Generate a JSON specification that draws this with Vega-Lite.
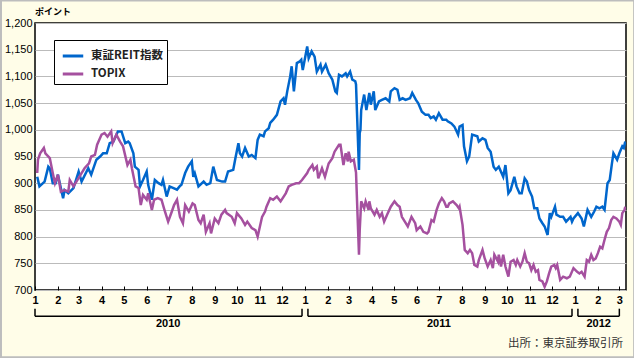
{
 "$schema": "https://vega.github.io/schema/vega-lite/v6.json",
 "width": 591, "height": 267,
 "autosize": "none",
 "padding": {"left": 35, "top": 23, "right": 8, "bottom": 68},
 "background": "#FFFDE8",
 "config": {"view": {"stroke": "#000", "strokeWidth": 1.5, "fill": "#fff"}, "font": "Liberation Sans",
   "axisY": {"values": [700, 750, 800, 850, 900, 950, 1000, 1050, 1100, 1150, 1200], "format": ",.0f", "title": null,
        "grid": true, "gridColor": "#bbbbbb", "gridWidth": 1, "domain": false, "ticks": false, "labelOverlap": false, "labelFlush": false,
        "labelPadding": 3, "labelFontSize": 11, "labelColor": "#000"}},
 "datasets": {
  "reit": [
   {"date":"2010/01/04","value":912},{"date":"2010/01/07","value":894},{"date":"2010/01/14","value":903},{"date":"2010/01/19","value":931},{"date":"2010/01/21","value":928},{"date":"2010/01/25","value":900},{"date":"2010/01/29","value":900},{"date":"2010/02/01","value":916},{"date":"2010/02/08","value":872},{"date":"2010/02/10","value":887},{"date":"2010/02/15","value":881},{"date":"2010/02/22","value":891},{"date":"2010/03/01","value":922},{"date":"2010/03/05","value":903},{"date":"2010/03/14","value":928},{"date":"2010/03/18","value":916},{"date":"2010/03/25","value":944},{"date":"2010/03/30","value":950},{"date":"2010/04/03","value":956},{"date":"2010/04/08","value":956},{"date":"2010/04/12","value":975},{"date":"2010/04/17","value":978},{"date":"2010/04/19","value":984},{"date":"2010/04/23","value":997},{"date":"2010/04/28","value":997},{"date":"2010/05/03","value":975},{"date":"2010/05/07","value":978},{"date":"2010/05/09","value":975},{"date":"2010/05/14","value":956},{"date":"2010/05/16","value":931},{"date":"2010/05/21","value":925},{"date":"2010/05/23","value":894},{"date":"2010/05/27","value":906},{"date":"2010/06/01","value":922},{"date":"2010/06/03","value":897},{"date":"2010/06/08","value":869},{"date":"2010/06/12","value":906},{"date":"2010/06/17","value":900},{"date":"2010/06/21","value":897},{"date":"2010/06/23","value":906},{"date":"2010/06/28","value":875},{"date":"2010/07/02","value":894},{"date":"2010/07/12","value":888},{"date":"2010/07/16","value":895},{"date":"2010/07/18","value":897},{"date":"2010/07/23","value":919},{"date":"2010/07/27","value":931},{"date":"2010/08/01","value":941},{"date":"2010/08/03","value":912},{"date":"2010/08/05","value":919},{"date":"2010/08/10","value":894},{"date":"2010/08/17","value":903},{"date":"2010/08/21","value":897},{"date":"2010/08/26","value":900},{"date":"2010/08/30","value":931},{"date":"2010/09/04","value":906},{"date":"2010/09/11","value":903},{"date":"2010/09/15","value":903},{"date":"2010/09/19","value":922},{"date":"2010/09/26","value":925},{"date":"2010/09/29","value":947},{"date":"2010/10/03","value":975},{"date":"2010/10/05","value":956},{"date":"2010/10/08","value":950},{"date":"2010/10/12","value":966},{"date":"2010/10/17","value":950},{"date":"2010/10/21","value":953},{"date":"2010/10/26","value":947},{"date":"2010/10/29","value":981},{"date":"2010/11/01","value":991},{"date":"2010/11/06","value":988},{"date":"2010/11/08","value":997},{"date":"2010/11/13","value":1003},{"date":"2010/11/15","value":1013},{"date":"2010/11/19","value":1019},{"date":"2010/11/24","value":1028},{"date":"2010/11/29","value":1053},{"date":"2010/12/03","value":1059},{"date":"2010/12/05","value":1047},{"date":"2010/12/08","value":1072},{"date":"2010/12/12","value":1100},{"date":"2010/12/14","value":1119},{"date":"2010/12/17","value":1072},{"date":"2010/12/21","value":1125},{"date":"2010/12/25","value":1128},{"date":"2010/12/27","value":1131},{"date":"2010/12/29","value":1112},
   {"date":"2011/01/04","value":1156},{"date":"2011/01/06","value":1134},{"date":"2011/01/10","value":1147},{"date":"2011/01/14","value":1137},{"date":"2011/01/17","value":1109},{"date":"2011/01/22","value":1122},{"date":"2011/01/24","value":1109},{"date":"2011/01/29","value":1122},{"date":"2011/02/02","value":1106},{"date":"2011/02/07","value":1094},{"date":"2011/02/11","value":1072},{"date":"2011/02/13","value":1069},{"date":"2011/02/16","value":1103},{"date":"2011/02/20","value":1100},{"date":"2011/02/25","value":1106},{"date":"2011/02/27","value":1100},{"date":"2011/03/03","value":1109},{"date":"2011/03/06","value":1094},{"date":"2011/03/10","value":1091},{"date":"2011/03/11","value":1085},{"date":"2011/03/15","value":925},{"date":"2011/03/16","value":994},{"date":"2011/03/17","value":1000},{"date":"2011/03/18","value":1037},{"date":"2011/03/22","value":1066},{"date":"2011/03/25","value":1037},{"date":"2011/03/29","value":1069},{"date":"2011/03/31","value":1047},{"date":"2011/04/04","value":1072},{"date":"2011/04/06","value":1037},{"date":"2011/04/11","value":1053},{"date":"2011/04/15","value":1056},{"date":"2011/04/20","value":1059},{"date":"2011/04/25","value":1053},{"date":"2011/04/27","value":1072},{"date":"2011/05/02","value":1078},{"date":"2011/05/06","value":1075},{"date":"2011/05/09","value":1056},{"date":"2011/05/13","value":1059},{"date":"2011/05/17","value":1056},{"date":"2011/05/23","value":1059},{"date":"2011/05/26","value":1069},{"date":"2011/05/31","value":1056},{"date":"2011/06/03","value":1050},{"date":"2011/06/08","value":1034},{"date":"2011/06/13","value":1028},{"date":"2011/06/17","value":1028},{"date":"2011/06/20","value":1022},{"date":"2011/06/24","value":1025},{"date":"2011/06/27","value":1019},{"date":"2011/07/01","value":1031},{"date":"2011/07/06","value":1019},{"date":"2011/07/11","value":1019},{"date":"2011/07/13","value":1016},{"date":"2011/07/18","value":1012},{"date":"2011/07/22","value":1006},{"date":"2011/07/27","value":991},{"date":"2011/07/29","value":1006},{"date":"2011/08/02","value":1009},{"date":"2011/08/04","value":969},{"date":"2011/08/08","value":941},{"date":"2011/08/11","value":950},{"date":"2011/08/15","value":991},{"date":"2011/08/22","value":988},{"date":"2011/08/24","value":978},{"date":"2011/08/29","value":984},{"date":"2011/09/02","value":981},{"date":"2011/09/05","value":966},{"date":"2011/09/09","value":959},{"date":"2011/09/13","value":931},{"date":"2011/09/16","value":925},{"date":"2011/09/20","value":931},{"date":"2011/09/26","value":912},{"date":"2011/09/29","value":934},{"date":"2011/10/03","value":881},{"date":"2011/10/06","value":887},{"date":"2011/10/11","value":912},{"date":"2011/10/14","value":894},{"date":"2011/10/18","value":881},{"date":"2011/10/21","value":881},{"date":"2011/10/25","value":909},{"date":"2011/10/28","value":903},{"date":"2011/10/31","value":887},{"date":"2011/11/04","value":875},{"date":"2011/11/07","value":853},{"date":"2011/11/11","value":853},{"date":"2011/11/14","value":834},{"date":"2011/11/18","value":825},{"date":"2011/11/21","value":819},{"date":"2011/11/25","value":803},{"date":"2011/11/28","value":844},{"date":"2011/11/30","value":837},{"date":"2011/12/05","value":856},{"date":"2011/12/07","value":841},{"date":"2011/12/12","value":837},{"date":"2011/12/16","value":837},{"date":"2011/12/20","value":828},{"date":"2011/12/26","value":837},{"date":"2011/12/28","value":828},{"date":"2011/12/30","value":834},
   {"date":"2012/01/05","value":844},{"date":"2012/01/10","value":834},{"date":"2012/01/13","value":819},{"date":"2012/01/18","value":850},{"date":"2012/01/23","value":837},{"date":"2012/01/27","value":847},{"date":"2012/01/30","value":856},{"date":"2012/02/03","value":853},{"date":"2012/02/07","value":856},{"date":"2012/02/10","value":850},{"date":"2012/02/14","value":900},{"date":"2012/02/17","value":906},{"date":"2012/02/20","value":937},{"date":"2012/02/22","value":956},{"date":"2012/02/27","value":944},{"date":"2012/03/01","value":956},{"date":"2012/03/05","value":969},{"date":"2012/03/07","value":966},{"date":"2012/03/09","value":978}
  ],
  "topix": [
   {"date":"2010/01/04","value":919},{"date":"2010/01/05","value":944},{"date":"2010/01/08","value":956},{"date":"2010/01/13","value":966},{"date":"2010/01/15","value":956},{"date":"2010/01/21","value":947},{"date":"2010/01/25","value":919},{"date":"2010/01/28","value":900},{"date":"2010/02/01","value":916},{"date":"2010/02/05","value":884},{"date":"2010/02/10","value":887},{"date":"2010/02/15","value":884},{"date":"2010/02/17","value":906},{"date":"2010/02/22","value":894},{"date":"2010/02/26","value":903},{"date":"2010/03/05","value":919},{"date":"2010/03/09","value":928},{"date":"2010/03/15","value":937},{"date":"2010/03/18","value":950},{"date":"2010/03/23","value":953},{"date":"2010/03/26","value":972},{"date":"2010/04/01","value":991},{"date":"2010/04/05","value":994},{"date":"2010/04/09","value":987},{"date":"2010/04/14","value":997},{"date":"2010/04/16","value":975},{"date":"2010/04/21","value":991},{"date":"2010/04/26","value":978},{"date":"2010/04/30","value":969},{"date":"2010/05/06","value":934},{"date":"2010/05/10","value":944},{"date":"2010/05/12","value":928},{"date":"2010/05/17","value":894},{"date":"2010/05/21","value":891},{"date":"2010/05/24","value":859},{"date":"2010/05/27","value":878},{"date":"2010/06/01","value":869},{"date":"2010/06/03","value":881},{"date":"2010/06/08","value":850},{"date":"2010/06/11","value":869},{"date":"2010/06/16","value":872},{"date":"2010/06/21","value":869},{"date":"2010/06/25","value":850},{"date":"2010/06/30","value":828},{"date":"2010/07/05","value":847},{"date":"2010/07/08","value":859},{"date":"2010/07/12","value":869},{"date":"2010/07/16","value":837},{"date":"2010/07/20","value":825},{"date":"2010/07/23","value":859},{"date":"2010/07/28","value":847},{"date":"2010/08/02","value":862},{"date":"2010/08/05","value":859},{"date":"2010/08/10","value":831},{"date":"2010/08/13","value":825},{"date":"2010/08/17","value":841},{"date":"2010/08/20","value":809},{"date":"2010/08/25","value":825},{"date":"2010/08/27","value":806},{"date":"2010/09/01","value":834},{"date":"2010/09/06","value":825},{"date":"2010/09/10","value":841},{"date":"2010/09/15","value":850},{"date":"2010/09/17","value":844},{"date":"2010/09/24","value":837},{"date":"2010/09/28","value":825},{"date":"2010/10/01","value":844},{"date":"2010/10/07","value":834},{"date":"2010/10/12","value":822},{"date":"2010/10/15","value":828},{"date":"2010/10/21","value":816},{"date":"2010/10/26","value":812},{"date":"2010/10/29","value":800},{"date":"2010/11/04","value":837},{"date":"2010/11/08","value":847},{"date":"2010/11/10","value":856},{"date":"2010/11/15","value":872},{"date":"2010/11/19","value":869},{"date":"2010/11/24","value":875},{"date":"2010/11/29","value":866},{"date":"2010/12/06","value":881},{"date":"2010/12/10","value":894},{"date":"2010/12/14","value":897},{"date":"2010/12/20","value":900},{"date":"2010/12/24","value":900},{"date":"2010/12/28","value":906},
   {"date":"2011/01/04","value":919},{"date":"2011/01/06","value":925},{"date":"2011/01/11","value":934},{"date":"2011/01/13","value":925},{"date":"2011/01/17","value":931},{"date":"2011/01/19","value":909},{"date":"2011/01/24","value":928},{"date":"2011/01/28","value":912},{"date":"2011/02/02","value":937},{"date":"2011/02/07","value":947},{"date":"2011/02/10","value":959},{"date":"2011/02/16","value":972},{"date":"2011/02/18","value":972},{"date":"2011/02/22","value":934},{"date":"2011/02/25","value":956},{"date":"2011/02/28","value":941},{"date":"2011/03/01","value":959},{"date":"2011/03/04","value":941},{"date":"2011/03/08","value":944},{"date":"2011/03/10","value":928},{"date":"2011/03/11","value":920},{"date":"2011/03/15","value":766},{"date":"2011/03/16","value":812},{"date":"2011/03/18","value":866},{"date":"2011/03/22","value":853},{"date":"2011/03/24","value":866},{"date":"2011/03/28","value":850},{"date":"2011/03/29","value":866},{"date":"2011/03/31","value":853},{"date":"2011/04/05","value":841},{"date":"2011/04/08","value":850},{"date":"2011/04/12","value":837},{"date":"2011/04/15","value":844},{"date":"2011/04/18","value":828},{"date":"2011/04/22","value":841},{"date":"2011/04/27","value":856},{"date":"2011/05/02","value":866},{"date":"2011/05/06","value":859},{"date":"2011/05/09","value":856},{"date":"2011/05/12","value":837},{"date":"2011/05/16","value":828},{"date":"2011/05/20","value":819},{"date":"2011/05/25","value":837},{"date":"2011/05/30","value":825},{"date":"2011/06/01","value":812},{"date":"2011/06/06","value":819},{"date":"2011/06/10","value":809},{"date":"2011/06/15","value":806},{"date":"2011/06/17","value":809},{"date":"2011/06/21","value":831},{"date":"2011/06/24","value":828},{"date":"2011/06/28","value":850},{"date":"2011/07/01","value":862},{"date":"2011/07/05","value":872},{"date":"2011/07/08","value":866},{"date":"2011/07/11","value":856},{"date":"2011/07/13","value":856},{"date":"2011/07/15","value":862},{"date":"2011/07/20","value":866},{"date":"2011/07/25","value":859},{"date":"2011/07/28","value":853},{"date":"2011/07/29","value":856},{"date":"2011/08/02","value":822},{"date":"2011/08/05","value":775},{"date":"2011/08/09","value":769},{"date":"2011/08/12","value":775},{"date":"2011/08/15","value":769},{"date":"2011/08/18","value":747},{"date":"2011/08/22","value":744},{"date":"2011/08/24","value":756},{"date":"2011/08/29","value":775},{"date":"2011/09/01","value":759},{"date":"2011/09/05","value":744},{"date":"2011/09/09","value":756},{"date":"2011/09/12","value":741},{"date":"2011/09/14","value":766},{"date":"2011/09/19","value":753},{"date":"2011/09/20","value":766},{"date":"2011/09/23","value":744},{"date":"2011/09/26","value":766},{"date":"2011/09/29","value":744},{"date":"2011/10/03","value":725},{"date":"2011/10/06","value":753},{"date":"2011/10/10","value":756},{"date":"2011/10/13","value":747},{"date":"2011/10/15","value":756},{"date":"2011/10/19","value":744},{"date":"2011/10/22","value":753},{"date":"2011/10/25","value":769},{"date":"2011/10/28","value":753},{"date":"2011/10/31","value":750},{"date":"2011/11/03","value":737},{"date":"2011/11/06","value":747},{"date":"2011/11/09","value":734},{"date":"2011/11/12","value":737},{"date":"2011/11/14","value":719},{"date":"2011/11/18","value":716},{"date":"2011/11/21","value":706},{"date":"2011/11/24","value":716},{"date":"2011/11/27","value":731},{"date":"2011/11/30","value":744},{"date":"2011/12/04","value":747},{"date":"2011/12/06","value":741},{"date":"2011/12/08","value":747},{"date":"2011/12/12","value":719},{"date":"2011/12/16","value":725},{"date":"2011/12/21","value":722},{"date":"2011/12/25","value":725},{"date":"2011/12/30","value":741},
   {"date":"2012/01/04","value":734},{"date":"2012/01/07","value":731},{"date":"2012/01/10","value":734},{"date":"2012/01/14","value":725},{"date":"2012/01/17","value":756},{"date":"2012/01/20","value":753},{"date":"2012/01/23","value":766},{"date":"2012/01/26","value":756},{"date":"2012/01/29","value":759},{"date":"2012/02/01","value":769},{"date":"2012/02/04","value":781},{"date":"2012/02/07","value":778},{"date":"2012/02/10","value":794},{"date":"2012/02/13","value":809},{"date":"2012/02/16","value":816},{"date":"2012/02/19","value":831},{"date":"2012/02/22","value":837},{"date":"2012/02/26","value":834},{"date":"2012/03/01","value":828},{"date":"2012/03/03","value":822},{"date":"2012/03/05","value":844},{"date":"2012/03/08","value":850},{"date":"2012/03/09","value":856}
  ],
  "years": [
   {"start":"2010/01/01","end":"2010/12/28","mid":"2010/06/30","label":"2010"},
   {"start":"2011/01/05","end":"2011/12/28","mid":"2011/07/01","label":"2011"},
   {"start":"2012/01/05","end":"2012/03/01","mid":"2012/02/02","label":"2012"}
  ],
  "note": [{"date":"2012/03/06","text":"出所：東京証券取引所"}],
  "unit": [{"date":"2010/01/01","text":"ポイント"}]
 },
 "layer": [
  {
   "data": {"name": "reit"},
   "mark": {"type": "line", "strokeWidth": 2.5, "clip": true},
   "encoding": {
    "x": {"field": "date", "type": "temporal",
      "scale": {"domain": [{"year": 2010, "month": 1, "date": 1}, {"year": 2012, "month": 3, "date": 10}]},
      "axis": {"tickCount": {"interval": "month", "step": 1}, "format": "%-m", "title": null, "grid": false, "domain": false,
        "tickSize": -4, "tickColor": "#000", "labelPadding": 8, "labelFlush": false, "labelOverlap": false,
        "labelFontSize": 11, "labelFontWeight": "bold", "labelColor": "#000"}},
    "y": {"field": "value", "type": "quantitative",
      "scale": {"domain": [700, 1200], "nice": false, "zero": false},
      "axis": {"values": [700, 750, 800, 850, 900, 950, 1000, 1050, 1100, 1150, 1200]}},
    "color": {"datum": "東証REIT指数", "type": "nominal",
      "scale": {"domain": ["東証REIT指数", "TOPIX"], "range": ["#0066CC", "#A5509F"]},
      "legend": {"orient": "none", "legendX": 19, "legendY": 17, "title": null, "strokeColor": "#000", "fillColor": "#fff",
        "padding": 4, "symbolOffset": 3, "symbolType": "stroke", "symbolSize": 420, "symbolStrokeWidth": 3, "labelFontSize": 11.5,
        "labelFont": "Noto Sans CJK JP", "labelFontWeight": "bold", "labelColor": "#222", "rowPadding": 0, "labelOffset": 6}}
   }
  },
  {
   "data": {"name": "topix"},
   "mark": {"type": "line", "strokeWidth": 2.5, "clip": true},
   "encoding": {
    "x": {"field": "date", "type": "temporal"},
    "y": {"field": "value", "type": "quantitative", "axis": {"values": [700, 750, 800, 850, 900, 950, 1000, 1050, 1100, 1150, 1200]}},
    "color": {"datum": "TOPIX", "type": "nominal"}
   }
  },
  {
   "data": {"name": "years"},
   "mark": {"type": "rule", "color": "#000", "strokeWidth": 1.5},
   "encoding": {
    "x": {"field": "start", "type": "temporal"},
    "x2": {"field": "end"},
    "y": {"datum": 651, "type": "quantitative", "axis": {"values": [700, 750, 800, 850, 900, 950, 1000, 1050, 1100, 1150, 1200]}}
   }
  },
  {
   "data": {"name": "years"},
   "mark": {"type": "rule", "color": "#000", "strokeWidth": 1.5},
   "encoding": {
    "x": {"field": "start", "type": "temporal"},
    "y": {"datum": 651, "type": "quantitative", "axis": {"values": [700, 750, 800, 850, 900, 950, 1000, 1050, 1100, 1150, 1200]}},
    "y2": {"datum": 665}
   }
  },
  {
   "data": {"name": "years"},
   "mark": {"type": "rule", "color": "#000", "strokeWidth": 1.5},
   "encoding": {
    "x": {"field": "end", "type": "temporal"},
    "y": {"datum": 651, "type": "quantitative", "axis": {"values": [700, 750, 800, 850, 900, 950, 1000, 1050, 1100, 1150, 1200]}},
    "y2": {"datum": 665}
   }
  },
  {
   "data": {"name": "years"},
   "mark": {"type": "text", "fontSize": 11, "fontWeight": "bold", "color": "#000", "baseline": "middle"},
   "encoding": {
    "x": {"field": "mid", "type": "temporal"},
    "y": {"datum": 636, "type": "quantitative", "axis": {"values": [700, 750, 800, 850, 900, 950, 1000, 1050, 1100, 1150, 1200]}},
    "text": {"field": "label"}
   }
  },
  {
   "data": {"name": "note"},
   "mark": {"type": "text", "fontSize": 11.5, "font": "Noto Sans CJK JP", "color": "#333", "align": "right", "baseline": "middle"},
   "encoding": {
    "x": {"field": "date", "type": "temporal"},
    "y": {"datum": 599, "type": "quantitative", "axis": {"values": [700, 750, 800, 850, 900, 950, 1000, 1050, 1100, 1150, 1200]}},
    "text": {"field": "text"}
   }
  },
  {
   "data": {"name": "unit"},
   "mark": {"type": "text", "fontSize": 9, "font": "Noto Sans CJK JP", "fontWeight": "bold", "color": "#000", "align": "left", "baseline": "middle"},
   "encoding": {
    "x": {"field": "date", "type": "temporal"},
    "y": {"datum": 1221, "type": "quantitative", "axis": {"values": [700, 750, 800, 850, 900, 950, 1000, 1050, 1100, 1150, 1200]}},
    "text": {"field": "text"}
   }
  },
  {
   "data": {"values": [{}]},
   "mark": {"type": "rect", "fill": null, "stroke": "#bdbdbd", "strokeWidth": 2, "clip": false},
   "encoding": {
    "x": {"datum": {"year": 2009, "month": 11, "date": 16}, "type": "temporal"},
    "x2": {"datum": {"year": 2012, "month": 3, "date": 21}},
    "y": {"datum": 1242, "type": "quantitative", "axis": {"values": [700, 750, 800, 850, 900, 950, 1000, 1050, 1100, 1150, 1200]}},
    "y2": {"datum": 574}
   }
  }
 ]
}
